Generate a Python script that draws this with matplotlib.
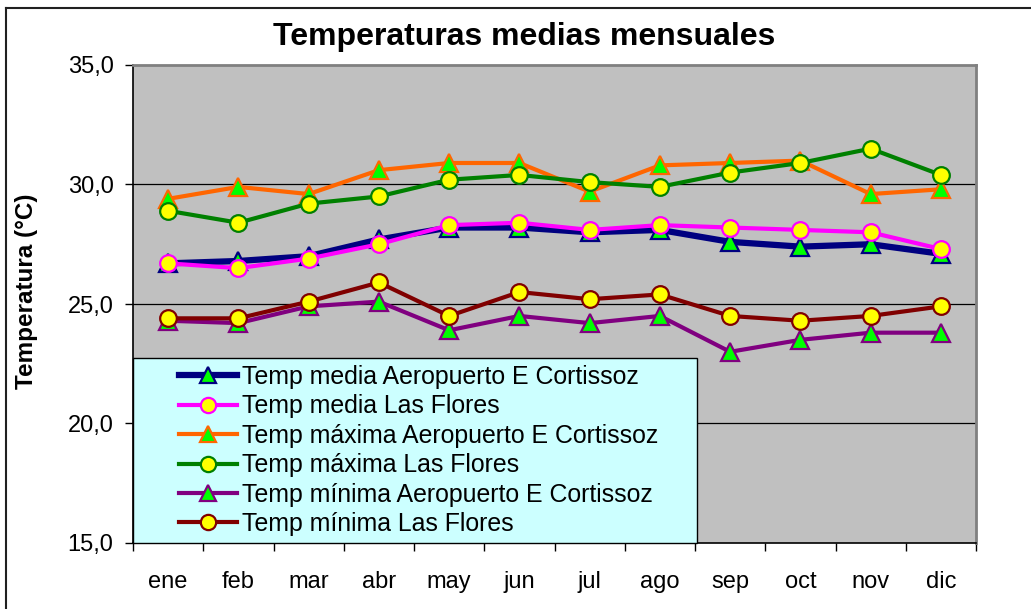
import matplotlib
matplotlib.use("Agg")
import matplotlib.pyplot as plt
from matplotlib.patches import Rectangle
from matplotlib.lines import Line2D
import numpy as np

plt.rcParams['font.family'] = ['Liberation Sans', 'DejaVu Sans']

months = ["ene", "feb", "mar", "abr", "may", "jun", "jul", "ago", "sep", "oct", "nov", "dic"]

media_aero = [26.7, 26.8, 27.0, 27.7, 28.2, 28.2, 28.0, 28.1, 27.6, 27.4, 27.5, 27.1]
media_flores = [26.7, 26.5, 26.9, 27.5, 28.3, 28.4, 28.1, 28.3, 28.2, 28.1, 28.0, 27.3]
max_aero = [29.4, 29.9, 29.6, 30.6, 30.9, 30.9, 29.7, 30.8, 30.9, 31.0, 29.6, 29.8]
max_flores = [28.9, 28.4, 29.2, 29.5, 30.2, 30.4, 30.1, 29.9, 30.5, 30.9, 31.5, 30.4]
min_aero = [24.3, 24.2, 24.9, 25.1, 23.9, 24.5, 24.2, 24.5, 23.0, 23.5, 23.8, 23.8]
min_flores = [24.4, 24.4, 25.1, 25.9, 24.5, 25.5, 25.2, 25.4, 24.5, 24.3, 24.5, 24.9]

labels = ["Temp media Aeropuerto E Cortissoz", "Temp media Las Flores",
          "Temp máxima Aeropuerto E Cortissoz", "Temp máxima Las Flores",
          "Temp mínima Aeropuerto E Cortissoz", "Temp mínima Las Flores"]
yticks = [15, 20, 25, 30, 35]

W, H = 1031, 609
fig = plt.figure(figsize=(W / 100, H / 100), dpi=100)
fig.patch.set_facecolor("white")

# figure border (top and left visible)
fig.add_artist(Line2D([6 / W, 6 / W], [0, 1 - 8 / H], transform=fig.transFigure, color="#202020", lw=1.5))
fig.add_artist(Line2D([6 / W, 1], [1 - 8 / H, 1 - 8 / H], transform=fig.transFigure, color="#202020", lw=1.5))

ax = fig.add_axes([133 / W, (H - 543) / H, 843 / W, 478 / H])
ax.set_facecolor("#C0C0C0")

x = np.arange(len(months))
series = [
    (media_aero, "#000080", "^", "#00FF00", 4.5),
    (media_flores, "#FF00FF", "o", "#FFFF00", 3.0),
    (max_aero, "#FF6600", "^", "#00FF00", 3.0),
    (max_flores, "#008000", "o", "#FFFF00", 3.0),
    (min_aero, "#800080", "^", "#00FF00", 3.0),
    (min_flores, "#800000", "o", "#FFFF00", 3.0),
]
handles = []
for i, (vals, col, mk, fc, lw) in enumerate(series):
    ms = 13 if mk == "^" else 12
    h, = ax.plot(x, vals, color=col, lw=lw, marker=mk, markersize=ms,
                 markerfacecolor=fc, markeredgecolor=col, markeredgewidth=1.6,
                 zorder=3 + i, solid_joinstyle="miter")
    handles.append(h)

ax.set_xlim(-0.5, len(months) - 0.5)
ax.set_ylim(yticks[0], yticks[-1])

for yv in yticks[1:-1]:
    ax.axhline(yv, color="black", lw=0.9, zorder=1)

ax.set_yticks(yticks)
ax.set_yticklabels([f"{v:.1f}".replace(".", ",") for v in yticks])
ax.tick_params(axis="y", direction="out", length=6, width=1, pad=8, labelsize=17, colors="black")

ax.set_xticks(np.arange(len(months) + 1) - 0.5)
ax.set_xticklabels([])
ax.tick_params(axis="x", which="major", direction="out", length=6, width=1)
ax.set_xticks(x, minor=True)
ax.set_xticklabels(months, minor=True)
ax.tick_params(axis="x", which="minor", length=0, pad=20, labelsize=17)

for s in ["left", "bottom"]:
    ax.spines[s].set_color("black")
    ax.spines[s].set_linewidth(1.2)
for s in ["top", "right"]:
    ax.spines[s].set_color("#808080")
    ax.spines[s].set_linewidth(2)

# legend box
bw = (697 - 133) / 843
bh = (543 - 358) / 478
ax.add_patch(Rectangle((0, 0), bw, bh, transform=ax.transAxes, facecolor="#CCFFFF",
                       edgecolor="black", lw=1, zorder=20, clip_on=False))
lx = (179 - 133) / 843
leg = ax.legend(handles, labels, loc="center left", bbox_to_anchor=(lx, 0, bw - lx, bh),
                bbox_transform=ax.transAxes, frameon=False, fontsize=17.9,
                handlelength=2.35, handletextpad=0.2, labelspacing=0.22,
                borderpad=0, borderaxespad=0)
leg.set_zorder(21)
for lh in leg.legend_handles:
    lh.set_markersize(11)

fig.text(524 / W, 1 - 37 / H, "Temperaturas medias mensuales", ha="center", va="center",
         fontsize=23, fontweight="bold")
fig.text(27 / W, 1 - 291 / H, "Temperatura (°C)", ha="center", va="center",
         rotation=90, fontsize=17.5, fontweight="bold")

fig.savefig("out.png", dpi=100)
